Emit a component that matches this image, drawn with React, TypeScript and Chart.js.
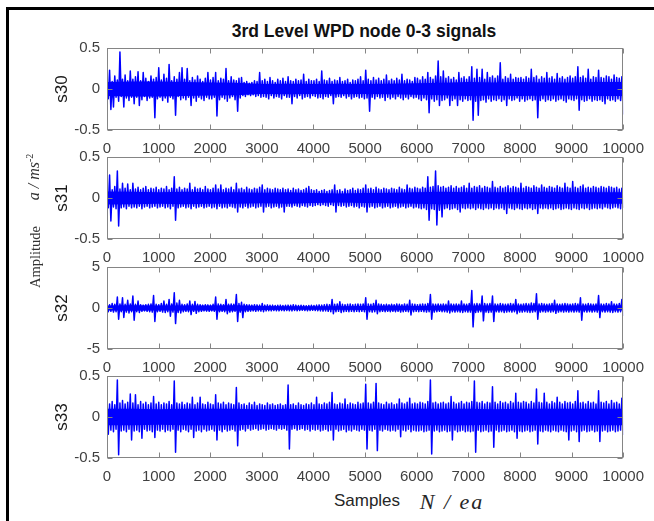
import React, { useEffect, useRef } from "react";
import { Chart, registerables } from "chart.js";
Chart.register(...registerables);

const TITLE = "3rd Level WPD node 0-3 signals";
const X_LABEL = "Samples";
const X_UNIT = "N / ea";
const Y_LABEL = "Amplitude";
const X_MAX = 10000;
const X_TICKS = [0, 1000, 2000, 3000, 4000, 5000, 6000, 7000, 8000, 9000, 10000];
const Y_TICKS_S30 = [-0.5, 0, 0.5];
const Y_TICKS_S31 = [-0.5, 0, 0.5];
const Y_TICKS_S32 = [-5, 0, 5];
const Y_TICKS_S33 = [-0.5, 0, 0.5];

// envelope (max / min per 50-sample block)
const S30_HI = [
  0.14, 0.23, 0.09, 0.16, 0.11, 0.45, 0.12, 0.17, 0.1, 0.22,
  0.12, 0.15, 0.21, 0.1, 0.2, 0.13, 0.09, 0.16, 0.12, 0.14,
  0.26, 0.11, 0.18, 0.13, 0.3, 0.1, 0.15, 0.12, 0.2, 0.26,
  0.12, 0.25, 0.1, 0.14, 0.11, 0.16, 0.12, 0.09, 0.13, 0.2,
  0.11, 0.14, 0.2, 0.1, 0.13, 0.12, 0.25, 0.1, 0.15, 0.11,
  0.1, 0.13, 0.14, 0.08, 0.09, 0.07, 0.08, 0.1, 0.09, 0.2,
  0.1, 0.12, 0.09, 0.14, 0.1, 0.08, 0.12, 0.1, 0.13, 0.09,
  0.15, 0.1, 0.09, 0.12, 0.1, 0.11, 0.18, 0.09, 0.12, 0.1,
  0.1, 0.12, 0.09, 0.22, 0.11, 0.1, 0.13, 0.09, 0.11, 0.1,
  0.14, 0.09, 0.1, 0.12, 0.08, 0.11, 0.1, 0.12, 0.15, 0.1,
  0.23, 0.12, 0.1, 0.14, 0.11, 0.13, 0.1, 0.12, 0.17, 0.1,
  0.12, 0.1, 0.13, 0.11, 0.18, 0.1, 0.12, 0.11, 0.09, 0.14,
  0.13, 0.11, 0.15, 0.12, 0.2, 0.14, 0.12, 0.16, 0.34, 0.15,
  0.22, 0.13, 0.15, 0.12, 0.14, 0.11, 0.2, 0.13, 0.15, 0.12,
  0.15, 0.27, 0.13, 0.24, 0.14, 0.24, 0.12, 0.2, 0.14, 0.16,
  0.13, 0.16, 0.32, 0.12, 0.15, 0.13, 0.18, 0.12, 0.14, 0.13,
  0.14, 0.12, 0.15, 0.13, 0.24, 0.14, 0.16, 0.12, 0.15, 0.13,
  0.2, 0.13, 0.15, 0.12, 0.19, 0.13, 0.15, 0.12, 0.14, 0.16,
  0.13, 0.15, 0.27, 0.14, 0.16, 0.13, 0.24, 0.12, 0.15, 0.14,
  0.23, 0.14, 0.13, 0.16, 0.15, 0.12, 0.17, 0.14, 0.13, 0.15,
];
const S30_LO = [
  -0.12, -0.25, -0.22, -0.1, -0.15, -0.09, -0.22, -0.11, -0.14, -0.1,
  -0.18, -0.1, -0.2, -0.13, -0.09, -0.14, -0.11, -0.1, -0.35, -0.12,
  -0.1, -0.14, -0.11, -0.16, -0.1, -0.12, -0.32, -0.09, -0.13, -0.11,
  -0.13, -0.1, -0.2, -0.11, -0.15, -0.1, -0.12, -0.14, -0.1, -0.12,
  -0.12, -0.1, -0.33, -0.13, -0.1, -0.12, -0.15, -0.11, -0.09, -0.13,
  -0.27, -0.11, -0.08, -0.09, -0.07, -0.08, -0.07, -0.09, -0.08, -0.1,
  -0.09, -0.1, -0.12, -0.08, -0.11, -0.09, -0.1, -0.12, -0.08, -0.1,
  -0.1, -0.18, -0.09, -0.11, -0.08, -0.12, -0.1, -0.09, -0.11, -0.08,
  -0.09, -0.11, -0.1, -0.12, -0.09, -0.1, -0.08, -0.18, -0.1, -0.09,
  -0.1, -0.08, -0.11, -0.09, -0.12, -0.1, -0.09, -0.11, -0.1, -0.12,
  -0.11, -0.27, -0.1, -0.12, -0.09, -0.11, -0.1, -0.14, -0.1, -0.12,
  -0.1, -0.12, -0.09, -0.11, -0.13, -0.1, -0.12, -0.09, -0.11, -0.1,
  -0.12, -0.14, -0.11, -0.13, -0.29, -0.12, -0.15, -0.13, -0.2, -0.14,
  -0.13, -0.11, -0.2, -0.14, -0.12, -0.2, -0.13, -0.15, -0.12, -0.14,
  -0.13, -0.38, -0.15, -0.32, -0.14, -0.13, -0.16, -0.12, -0.15, -0.13,
  -0.14, -0.12, -0.15, -0.13, -0.2, -0.12, -0.14, -0.13, -0.11, -0.15,
  -0.12, -0.15, -0.13, -0.12, -0.14, -0.13, -0.35, -0.14, -0.12, -0.15,
  -0.13, -0.14, -0.12, -0.15, -0.13, -0.12, -0.14, -0.16, -0.12, -0.13,
  -0.14, -0.12, -0.26, -0.13, -0.15, -0.14, -0.12, -0.15, -0.13, -0.14,
  -0.13, -0.15, -0.18, -0.12, -0.14, -0.13, -0.15, -0.12, -0.14, -0.31,
];
const S30_CORE = [0.085, 0.09, 0.09, 0.085, 0.08, 0.075, 0.06, 0.065, 0.06, 0.065, 0.06, 0.065, 0.07, 0.075, 0.085, 0.08, 0.085, 0.08, 0.08, 0.085, 0.085];

const S31_HI = [
  0.12, 0.28, 0.1, 0.14, 0.33, 0.11, 0.18, 0.12, 0.17, 0.1,
  0.18, 0.11, 0.13, 0.1, 0.12, 0.14, 0.1, 0.12, 0.11, 0.13,
  0.1, 0.12, 0.11, 0.14, 0.1, 0.12, 0.26, 0.11, 0.13, 0.1,
  0.12, 0.11, 0.18, 0.1, 0.13, 0.11, 0.12, 0.1, 0.14, 0.11,
  0.1, 0.12, 0.16, 0.11, 0.16, 0.1, 0.12, 0.11, 0.13, 0.1,
  0.18, 0.11, 0.12, 0.1, 0.13, 0.11, 0.1, 0.12, 0.11, 0.13,
  0.16, 0.1, 0.12, 0.11, 0.1, 0.12, 0.11, 0.1, 0.12, 0.1,
  0.11, 0.09, 0.12, 0.1, 0.11, 0.09, 0.1, 0.12, 0.14, 0.1,
  0.09, 0.1, 0.08, 0.09, 0.1, 0.08, 0.09, 0.1, 0.16, 0.09,
  0.1, 0.08, 0.11, 0.09, 0.1, 0.12, 0.09, 0.11, 0.1, 0.12,
  0.16, 0.11, 0.12, 0.1, 0.13, 0.11, 0.1, 0.12, 0.11, 0.1,
  0.12, 0.11, 0.1, 0.13, 0.11, 0.1, 0.16, 0.12, 0.11, 0.13,
  0.12, 0.11, 0.13, 0.12, 0.26, 0.13, 0.14, 0.33, 0.15, 0.13,
  0.14, 0.12, 0.13, 0.15, 0.12, 0.14, 0.12, 0.13, 0.15, 0.12,
  0.18, 0.12, 0.14, 0.13, 0.15, 0.12, 0.14, 0.13, 0.12, 0.2,
  0.13, 0.12, 0.14, 0.12, 0.13, 0.15, 0.12, 0.14, 0.13, 0.12,
  0.18, 0.12, 0.14, 0.13, 0.12, 0.15, 0.13, 0.12, 0.16, 0.13,
  0.12, 0.14, 0.13, 0.12, 0.15, 0.13, 0.12, 0.18, 0.13, 0.12,
  0.2, 0.13, 0.12, 0.14, 0.16, 0.12, 0.13, 0.12, 0.14, 0.13,
  0.12, 0.14, 0.13, 0.12, 0.14, 0.13, 0.12, 0.13, 0.11, 0.12,
];
const S31_LO = [
  -0.12, -0.28, -0.11, -0.13, -0.34, -0.12, -0.11, -0.13, -0.1, -0.12,
  -0.11, -0.12, -0.1, -0.13, -0.11, -0.1, -0.12, -0.11, -0.1, -0.12,
  -0.11, -0.1, -0.12, -0.11, -0.13, -0.1, -0.27, -0.12, -0.11, -0.1,
  -0.12, -0.11, -0.13, -0.1, -0.12, -0.11, -0.1, -0.12, -0.11, -0.1,
  -0.12, -0.11, -0.13, -0.1, -0.12, -0.11, -0.12, -0.1, -0.11, -0.12,
  -0.17, -0.11, -0.12, -0.1, -0.12, -0.11, -0.1, -0.12, -0.11, -0.1,
  -0.17, -0.11, -0.1, -0.12, -0.11, -0.1, -0.12, -0.11, -0.17, -0.1,
  -0.1, -0.11, -0.09, -0.1, -0.11, -0.09, -0.1, -0.11, -0.09, -0.1,
  -0.09, -0.08, -0.09, -0.08, -0.09, -0.1, -0.08, -0.09, -0.17, -0.09,
  -0.1, -0.09, -0.11, -0.1, -0.09, -0.11, -0.1, -0.12, -0.1, -0.11,
  -0.17, -0.11, -0.1, -0.12, -0.11, -0.1, -0.12, -0.11, -0.1, -0.12,
  -0.11, -0.1, -0.12, -0.11, -0.1, -0.12, -0.11, -0.1, -0.12, -0.11,
  -0.12, -0.13, -0.12, -0.14, -0.27, -0.13, -0.14, -0.33, -0.15, -0.23,
  -0.13, -0.12, -0.14, -0.13, -0.12, -0.14, -0.17, -0.12, -0.13, -0.12,
  -0.13, -0.12, -0.14, -0.12, -0.13, -0.14, -0.12, -0.13, -0.12, -0.14,
  -0.12, -0.13, -0.12, -0.14, -0.19, -0.12, -0.13, -0.14, -0.12, -0.13,
  -0.14, -0.12, -0.13, -0.12, -0.14, -0.13, -0.19, -0.12, -0.13, -0.12,
  -0.13, -0.12, -0.14, -0.13, -0.12, -0.14, -0.13, -0.12, -0.13, -0.14,
  -0.12, -0.13, -0.14, -0.12, -0.13, -0.12, -0.14, -0.13, -0.12, -0.13,
  -0.12, -0.13, -0.11, -0.12, -0.13, -0.12, -0.11, -0.12, -0.13, -0.12,
];
const S31_CORE = [0.08, 0.075, 0.07, 0.075, 0.07, 0.07, 0.065, 0.07, 0.06, 0.055, 0.06, 0.065, 0.07, 0.075, 0.07, 0.07, 0.07, 0.075, 0.07, 0.07, 0.07];

const S32_HI = [
  0.5, 0.4, 0.55, 0.45, 1.33, 0.5, 1.25, 0.45, 0.95, 0.5,
  1.45, 0.45, 0.85, 0.4, 0.35, 0.4, 0.45, 0.5, 1.53, 0.45,
  0.4, 0.55, 0.85, 0.45, 1.05, 0.5, 1.85, 0.6, 0.95, 0.45,
  0.4, 0.5, 0.85, 0.45, 0.8, 0.45, 0.4, 0.35, 0.4, 0.38,
  0.35, 0.45, 1.33, 0.5, 0.45, 0.4, 1.05, 0.45, 0.5, 0.45,
  1.65, 0.55, 0.7, 0.45, 0.4, 0.38, 0.35, 0.4, 0.38, 0.35,
  0.55, 0.35, 0.38, 0.33, 0.35, 0.3, 0.33, 0.35, 0.3, 0.33,
  0.35, 0.33, 0.4, 0.35, 0.3, 0.33, 0.3, 0.28, 0.3, 0.33,
  0.3, 0.35, 0.38, 0.35, 0.4, 0.45, 0.4, 1.05, 0.45, 0.5,
  0.77, 0.45, 0.4, 0.45, 0.5, 0.4, 0.45, 0.5, 0.45, 0.5,
  1.25, 0.5, 0.45, 0.55, 0.95, 0.5, 0.45, 0.4, 0.45, 0.4,
  0.45, 0.4, 0.5, 0.45, 0.4, 0.5, 0.45, 0.95, 0.5, 0.45,
  0.4, 0.45, 0.5, 0.45, 0.55, 1.65, 0.5, 0.45, 0.5, 0.45,
  0.5, 0.45, 0.85, 0.5, 0.45, 0.5, 0.45, 0.85, 0.5, 0.45,
  0.55, 2.14, 0.5, 0.55, 0.5, 1.45, 0.55, 0.5, 0.55, 1.45,
  0.5, 0.45, 0.55, 0.5, 0.45, 0.5, 0.55, 0.5, 1.05, 0.5,
  0.45, 0.5, 0.55, 0.5, 0.6, 0.55, 1.73, 0.5, 0.55, 0.5,
  0.45, 0.5, 0.55, 0.95, 0.5, 0.45, 0.5, 0.55, 0.5, 0.45,
  0.5, 0.55, 0.5, 1.25, 0.5, 0.45, 0.55, 0.5, 0.45, 0.5,
  1.53, 0.5, 0.45, 0.55, 0.5, 0.77, 0.5, 0.45, 0.55, 1.05,
];
const S32_LO = [
  -0.45, -0.4, -0.5, -0.45, -1.37, -0.45, -1.15, -0.5, -0.6, -0.45,
  -1.5, -0.45, -0.55, -0.4, -0.35, -0.4, -0.45, -0.5, -1.65, -0.45,
  -0.4, -0.5, -0.55, -0.45, -1.0, -0.5, -1.9, -0.55, -0.6, -0.45,
  -0.4, -0.45, -0.8, -0.4, -0.65, -0.45, -0.4, -0.35, -0.38, -0.4,
  -0.35, -0.4, -1.37, -0.45, -0.4, -0.45, -0.7, -0.5, -0.45, -0.4,
  -1.65, -0.5, -1.17, -0.45, -0.4, -0.38, -0.35, -0.4, -0.35, -0.38,
  -0.45, -0.35, -0.33, -0.35, -0.3, -0.33, -0.35, -0.3, -0.33, -0.3,
  -0.33, -0.35, -0.3, -0.33, -0.3, -0.28, -0.3, -0.33, -0.3, -0.28,
  -0.3, -0.33, -0.35, -0.38, -0.35, -0.4, -0.45, -0.7, -0.45, -0.4,
  -0.55, -0.45, -0.4, -0.45, -0.4, -0.45, -0.4, -0.45, -0.4, -0.45,
  -1.37, -0.45, -0.5, -0.45, -0.7, -0.45, -0.4, -0.45, -0.4, -0.45,
  -0.4, -0.45, -0.4, -0.5, -0.45, -0.4, -0.45, -0.85, -0.45, -0.4,
  -0.45, -0.4, -0.45, -0.5, -0.45, -1.37, -0.5, -0.45, -0.4, -0.45,
  -0.45, -0.5, -0.6, -0.45, -0.5, -0.45, -0.5, -0.55, -0.45, -0.5,
  -0.5, -2.3, -0.55, -0.5, -0.45, -1.57, -0.5, -0.55, -0.5, -1.65,
  -0.45, -0.5, -0.45, -0.55, -0.5, -0.45, -0.5, -0.45, -0.7, -0.5,
  -0.5, -0.45, -0.5, -0.55, -0.5, -0.45, -1.37, -0.5, -0.45, -0.5,
  -0.45, -0.5, -0.45, -0.65, -0.5, -0.45, -0.5, -0.45, -0.5, -0.45,
  -0.5, -0.45, -0.5, -1.5, -0.45, -0.5, -0.45, -0.5, -0.45, -0.5,
  -1.17, -0.45, -0.5, -0.45, -0.5, -0.55, -0.45, -0.5, -0.45, -0.97,
];
const S32_CORE = [0.3, 0.35, 0.3, 0.3, 0.3, 0.35, 0.25, 0.2, 0.2, 0.2, 0.25, 0.3, 0.25, 0.3, 0.3, 0.3, 0.3, 0.3, 0.3, 0.3, 0.3];

const S33_HI = [
  0.21, 0.16, 0.19, 0.15, 0.45, 0.17, 0.2, 0.16, 0.18, 0.28,
  0.17, 0.27, 0.15, 0.19, 0.16, 0.18, 0.15, 0.17, 0.25, 0.16,
  0.18, 0.15, 0.17, 0.16, 0.19, 0.15, 0.44, 0.17, 0.16, 0.18,
  0.15, 0.17, 0.16, 0.24, 0.15, 0.17, 0.24, 0.16, 0.15, 0.18,
  0.16, 0.15, 0.27, 0.17, 0.16, 0.18, 0.15, 0.17, 0.16, 0.15,
  0.36, 0.17, 0.15, 0.16, 0.14, 0.17, 0.15, 0.18, 0.14, 0.16,
  0.15, 0.14, 0.17, 0.15, 0.16, 0.14, 0.15, 0.16, 0.14, 0.15,
  0.39, 0.15, 0.16, 0.14, 0.17, 0.15, 0.14, 0.16, 0.15, 0.17,
  0.15, 0.24, 0.16, 0.15, 0.17, 0.16, 0.18, 0.3, 0.16, 0.15,
  0.17, 0.16, 0.22, 0.15, 0.17, 0.16, 0.15, 0.18, 0.16, 0.17,
  0.4, 0.17, 0.16, 0.18, 0.41, 0.17, 0.16, 0.15, 0.18, 0.16,
  0.17, 0.15, 0.16, 0.22, 0.17, 0.16, 0.18, 0.23, 0.16, 0.17,
  0.16, 0.18, 0.17, 0.16, 0.19, 0.45, 0.17, 0.18, 0.16, 0.17,
  0.18, 0.16, 0.17, 0.25, 0.18, 0.16, 0.17, 0.19, 0.16, 0.18,
  0.17, 0.19, 0.44, 0.18, 0.17, 0.19, 0.16, 0.18, 0.17, 0.37,
  0.18, 0.16, 0.19, 0.17, 0.18, 0.16, 0.19, 0.17, 0.29, 0.18,
  0.17, 0.19, 0.18, 0.16, 0.19, 0.17, 0.34, 0.18, 0.17, 0.29,
  0.18, 0.16, 0.19, 0.17, 0.24, 0.18, 0.16, 0.19, 0.17, 0.18,
  0.16, 0.19, 0.32, 0.17, 0.18, 0.16, 0.19, 0.17, 0.18, 0.16,
  0.32, 0.18, 0.17, 0.19, 0.16, 0.2, 0.17, 0.18, 0.16, 0.23,
];
const S33_LO = [
  -0.21, -0.16, -0.18, -0.15, -0.46, -0.17, -0.16, -0.18, -0.15, -0.28,
  -0.17, -0.16, -0.18, -0.26, -0.15, -0.17, -0.16, -0.18, -0.25, -0.16,
  -0.17, -0.15, -0.18, -0.16, -0.17, -0.15, -0.43, -0.16, -0.18, -0.15,
  -0.16, -0.18, -0.15, -0.25, -0.17, -0.16, -0.18, -0.15, -0.17, -0.16,
  -0.15, -0.17, -0.28, -0.16, -0.18, -0.15, -0.17, -0.16, -0.15, -0.17,
  -0.35, -0.16, -0.15, -0.17, -0.14, -0.16, -0.15, -0.14, -0.16, -0.15,
  -0.14, -0.16, -0.15, -0.14, -0.15, -0.16, -0.14, -0.15, -0.14, -0.16,
  -0.39, -0.15, -0.14, -0.16, -0.15, -0.14, -0.16, -0.15, -0.17, -0.15,
  -0.16, -0.15, -0.17, -0.16, -0.15, -0.17, -0.16, -0.28, -0.15, -0.17,
  -0.16, -0.15, -0.18, -0.16, -0.17, -0.15, -0.16, -0.17, -0.15, -0.16,
  -0.39, -0.16, -0.17, -0.15, -0.41, -0.16, -0.17, -0.15, -0.16, -0.17,
  -0.16, -0.17, -0.15, -0.24, -0.16, -0.17, -0.15, -0.18, -0.16, -0.17,
  -0.17, -0.16, -0.18, -0.17, -0.16, -0.45, -0.17, -0.16, -0.18, -0.17,
  -0.16, -0.18, -0.17, -0.28, -0.16, -0.18, -0.17, -0.16, -0.18, -0.17,
  -0.18, -0.17, -0.43, -0.16, -0.18, -0.17, -0.16, -0.18, -0.17, -0.37,
  -0.16, -0.18, -0.17, -0.16, -0.18, -0.17, -0.16, -0.18, -0.26, -0.17,
  -0.18, -0.17, -0.16, -0.18, -0.17, -0.16, -0.33, -0.17, -0.18, -0.16,
  -0.17, -0.18, -0.16, -0.17, -0.18, -0.16, -0.17, -0.18, -0.28, -0.17,
  -0.16, -0.18, -0.3, -0.17, -0.16, -0.18, -0.17, -0.16, -0.18, -0.17,
  -0.3, -0.17, -0.16, -0.18, -0.17, -0.16, -0.18, -0.17, -0.16, -0.22,
];
const S33_CORE = [0.1, 0.1, 0.095, 0.1, 0.1, 0.1, 0.09, 0.1, 0.095, 0.1, 0.1, 0.1, 0.1, 0.1, 0.1, 0.095, 0.1, 0.1, 0.1, 0.1, 0.1];

const PANELS = [
  { name: "s30", hi: S30_HI, lo: S30_LO, core: S30_CORE, yTicks: Y_TICKS_S30 },
  { name: "s31", hi: S31_HI, lo: S31_LO, core: S31_CORE, yTicks: Y_TICKS_S31 },
  { name: "s32", hi: S32_HI, lo: S32_LO, core: S32_CORE, yTicks: Y_TICKS_S32 },
  { name: "s33", hi: S33_HI, lo: S33_LO, core: S33_CORE, yTicks: Y_TICKS_S33 },
];

// layout
const W = 654;
const PLOT_TOPS = [48, 157, 267, 376];
const PLOT_H = 82;
const PAD_TOP = 20;
const X_AXIS_H = 28;
const CANVAS_H = PAD_TOP + PLOT_H + X_AXIS_H;
const SANS = "'Liberation Sans', Arial, sans-serif";
const SERIF = "'Liberation Serif', 'Times New Roman', serif";
const BLUE = "#0000ff";

function zigzag(hi: number[], lo: number[]) {
  const n = hi.length * 2;
  const pts: { x: number; y: number }[] = [];
  for (let i = 0; i < hi.length; i++) {
    pts.push({ x: ((2 * i) * X_MAX) / (n - 1), y: hi[i] });
    pts.push({ x: ((2 * i + 1) * X_MAX) / (n - 1), y: lo[i] });
  }
  return pts;
}

function band(core: number[], sign: number) {
  return core.map((c, j) => ({ x: (j * X_MAX) / (core.length - 1), y: sign * c }));
}

const framePlugin = {
  id: "frameTicks",
  afterDraw(chart: any) {
    const { ctx, chartArea: a, scales } = chart;
    const xs = scales.x;
    const ys = scales.y;
    ctx.save();
    ctx.strokeStyle = "#858585";
    ctx.lineWidth = 1;
    const L = Math.round(a.left) + 0.5;
    const R = Math.round(a.right) - 0.5;
    const T = Math.round(a.top) + 0.5;
    const B = Math.round(a.bottom) - 0.5;
    ctx.strokeRect(L, T, R - L, B - T);
    ctx.beginPath();
    xs.ticks.forEach((t: any) => {
      const px = Math.round(xs.getPixelForValue(t.value)) + 0.5;
      ctx.moveTo(px, T);
      ctx.lineTo(px, T + 5);
      ctx.moveTo(px, B);
      ctx.lineTo(px, B - 5);
    });
    ys.ticks.forEach((t: any) => {
      const py = Math.round(ys.getPixelForValue(t.value)) + 0.5;
      ctx.moveTo(L, py);
      ctx.lineTo(L + 5, py);
      ctx.moveTo(R, py);
      ctx.lineTo(R - 5, py);
    });
    ctx.stroke();
    ctx.restore();
  },
};

function Panel({ idx }: { idx: number }) {
  const ref = useRef<HTMLCanvasElement>(null);
  const p = PANELS[idx];
  useEffect(() => {
    const yMin = p.yTicks[0];
    const yMax = p.yTicks[p.yTicks.length - 1];
    const chart = new Chart(ref.current as HTMLCanvasElement, {
      type: "line",
      data: {
        datasets: [
          {
            data: band(p.core, 1),
            borderColor: "rgba(0,0,0,0)",
            borderWidth: 0,
            pointRadius: 0,
            fill: false,
          },
          {
            data: band(p.core, -1),
            borderColor: "rgba(0,0,0,0)",
            backgroundColor: BLUE,
            borderWidth: 0,
            pointRadius: 0,
            fill: "-1",
          },
          {
            data: zigzag(p.hi, p.lo),
            borderColor: BLUE,
            borderWidth: 1.5,
            borderJoinStyle: "round",
            pointRadius: 0,
            tension: 0,
            fill: false,
          },
        ],
      } as any,
      options: {
        responsive: false,
        animation: false,
        events: [],
        layout: { padding: { top: PAD_TOP, left: 48, right: 28, bottom: 0 } },
        plugins: { legend: { display: false }, tooltip: { enabled: false }, title: { display: false } },
        scales: {
          x: {
            type: "linear",
            min: 0,
            max: X_MAX,
            grid: { display: false, drawTicks: false },
            border: { display: false },
            afterBuildTicks: (s: any) => {
              s.ticks = X_TICKS.map((v) => ({ value: v }));
            },
            afterFit: (s: any) => {
              s.height = X_AXIS_H;
            },
            ticks: {
              autoSkip: false,
              maxRotation: 0,
              padding: 10,
              color: "#404040",
              font: { family: SANS, size: 15 },
              callback: (v: any) => String(v),
            },
          },
          y: {
            min: yMin,
            max: yMax,
            grid: { display: false, drawTicks: false },
            border: { display: false },
            afterBuildTicks: (s: any) => {
              s.ticks = p.yTicks.map((v) => ({ value: v }));
            },
            afterFit: (s: any) => {
              s.width = 59;
            },
            ticks: {
              padding: 7,
              color: "#404040",
              font: { family: SANS, size: 15 },
              callback: (v: any) => String(v),
            },
            title: {
              display: true,
              text: p.name,
              color: "#1a1a1a",
              font: { family: SANS, size: 17 },
              padding: { top: 4, bottom: 4 },
            },
          },
        },
      } as any,
      plugins: [framePlugin],
    });
    return () => chart.destroy();
  }, []);
  return (
    <canvas
      ref={ref}
      width={W}
      height={CANVAS_H}
      style={{ position: "absolute", left: 0, top: PLOT_TOPS[idx] - PAD_TOP, width: W, height: CANVAS_H }}
    />
  );
}

function Rotated({ cx, cy, children, style }: any) {
  return (
    <div
      style={{
        position: "absolute",
        left: cx,
        top: cy,
        transform: "translate(-50%, -50%) rotate(-90deg)",
        whiteSpace: "nowrap",
        lineHeight: 1,
        ...style,
      }}
    >
      {children}
    </div>
  );
}

export default function App() {
  return (
    <div
      style={{
        position: "absolute",
        left: 0,
        top: 0,
        width: W,
        height: 521,
        overflow: "hidden",
        background: "#fff",
      }}
    >
      <div
        style={{
          position: "absolute",
          left: 6,
          top: 7,
          width: 660,
          height: 530,
          borderTop: "3px solid #000",
          borderLeft: "3px solid #000",
        }}
      />
      <div
        style={{
          position: "absolute",
          left: 364,
          top: 32,
          transform: "translate(-50%, -50%)",
          whiteSpace: "nowrap",
          fontFamily: SANS,
          fontWeight: "bold",
          fontSize: 17.5,
          color: "#111",
          lineHeight: 1,
        }}
      >
        {TITLE}
      </div>
      {PANELS.map((_, i) => (
        <Panel key={i} idx={i} />
      ))}
      <Rotated cx={35} cy={257} style={{ fontFamily: SERIF, fontSize: 14.5, color: "#333" }}>
        {Y_LABEL}
      </Rotated>
      <Rotated cx={33} cy={177} style={{ fontFamily: SERIF, fontSize: 16, fontStyle: "italic", color: "#333" }}>
        a / ms<sup style={{ fontSize: 10, verticalAlign: "6px", fontStyle: "normal" }}>-2</sup>
      </Rotated>
      <div
        style={{
          position: "absolute",
          left: 367,
          top: 500,
          transform: "translate(-50%, -50%)",
          whiteSpace: "nowrap",
          fontFamily: SANS,
          fontSize: 17,
          color: "#262626",
          lineHeight: 1,
        }}
      >
        {X_LABEL}
      </div>
      <div
        style={{
          position: "absolute",
          left: 452,
          top: 502,
          transform: "translate(-50%, -50%)",
          whiteSpace: "pre",
          fontFamily: SERIF,
          fontSize: 22,
          fontStyle: "italic",
          letterSpacing: 2,
          color: "#262626",
          lineHeight: 1,
        }}
      >
        {X_UNIT}
      </div>
    </div>
  );
}
